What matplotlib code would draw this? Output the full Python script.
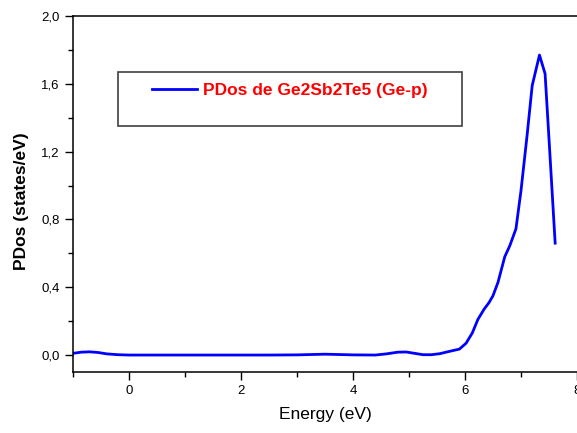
import matplotlib
matplotlib.use("Agg")
import matplotlib.pyplot as plt
from matplotlib.patches import Rectangle
from matplotlib.ticker import MultipleLocator, FuncFormatter

plt.rcParams['font.family'] = ['Liberation Sans', 'DejaVu Sans']

# Ge-p projected DOS of Ge2Sb2Te5
energy = [-1.0, -0.85, -0.7, -0.55, -0.4, -0.2, 0.0, 0.5, 1.0, 1.5, 2.0, 2.5,
          3.0, 3.25, 3.5, 3.75, 4.0, 4.4, 4.6, 4.8, 4.95, 5.1, 5.25, 5.4,
          5.55, 5.7, 5.9, 6.02, 6.13, 6.23, 6.34, 6.43, 6.5, 6.59, 6.71,
          6.8, 6.91, 7.0, 7.11, 7.2, 7.33, 7.43, 7.51, 7.61]
pdos = [0.010, 0.017, 0.019, 0.015, 0.007, 0.002, 0.0, 0.0, 0.0, 0.0, 0.0, 0.0,
        0.001, 0.003, 0.005, 0.003, 0.001, 0.0, 0.007, 0.017, 0.018, 0.010, 0.002, 0.002,
        0.008, 0.020, 0.035, 0.070, 0.130, 0.210, 0.270, 0.310, 0.350, 0.430, 0.580,
        0.645, 0.745, 0.970, 1.300, 1.590, 1.770, 1.660, 1.220, 0.660]

fig = plt.figure(figsize=(5.77, 4.33), dpi=100)
ax = fig.add_axes([0.1265, 0.1409, 0.8735, 0.822])

ax.plot(energy, pdos, color='#0000ff', lw=2.0, label='PDos de Ge2Sb2Te5 (Ge-p)')

ax.set_xlim(-1, 8)
ax.set_ylim(-0.1, 2.0)
ax.xaxis.set_major_locator(MultipleLocator(2))
ax.xaxis.set_minor_locator(MultipleLocator(1))
ax.yaxis.set_major_locator(MultipleLocator(0.4))
ax.yaxis.set_minor_locator(MultipleLocator(0.2))
ax.yaxis.set_major_formatter(FuncFormatter(lambda v, p: f"{v:.1f}".replace('.', ',')))
ax.xaxis.set_major_formatter(FuncFormatter(lambda v, p: f"{v:.0f}"))
ax.tick_params(which='major', direction='out', length=6, width=1, labelsize=9.5)
ax.tick_params(which='minor', direction='out', length=3.5, width=1)
ax.spines['right'].set_visible(False)
for s in ['left', 'bottom', 'top']:
    ax.spines[s].set_linewidth(1.1)

ax.set_xlabel('Energy (eV)', fontsize=12.5, labelpad=7)
ax.set_ylabel('PDos (states/eV)', fontsize=12.5, fontweight='bold')
ax.yaxis.set_label_coords(-0.087, 0.48)

# legend box
ax.add_patch(Rectangle((0.089, 0.691), 0.683, 0.152, transform=ax.transAxes,
                       fill=False, edgecolor='#404040', lw=1.2))
leg = ax.legend(loc='center left', bbox_to_anchor=(0.157, 0.792), frameon=False,
                borderpad=0, borderaxespad=0, handlelength=2.6, handletextpad=0.35,
                prop={'weight': 'bold', 'size': 12.5}, labelcolor='#ff0000')

fig.savefig('out.png', dpi=100)
